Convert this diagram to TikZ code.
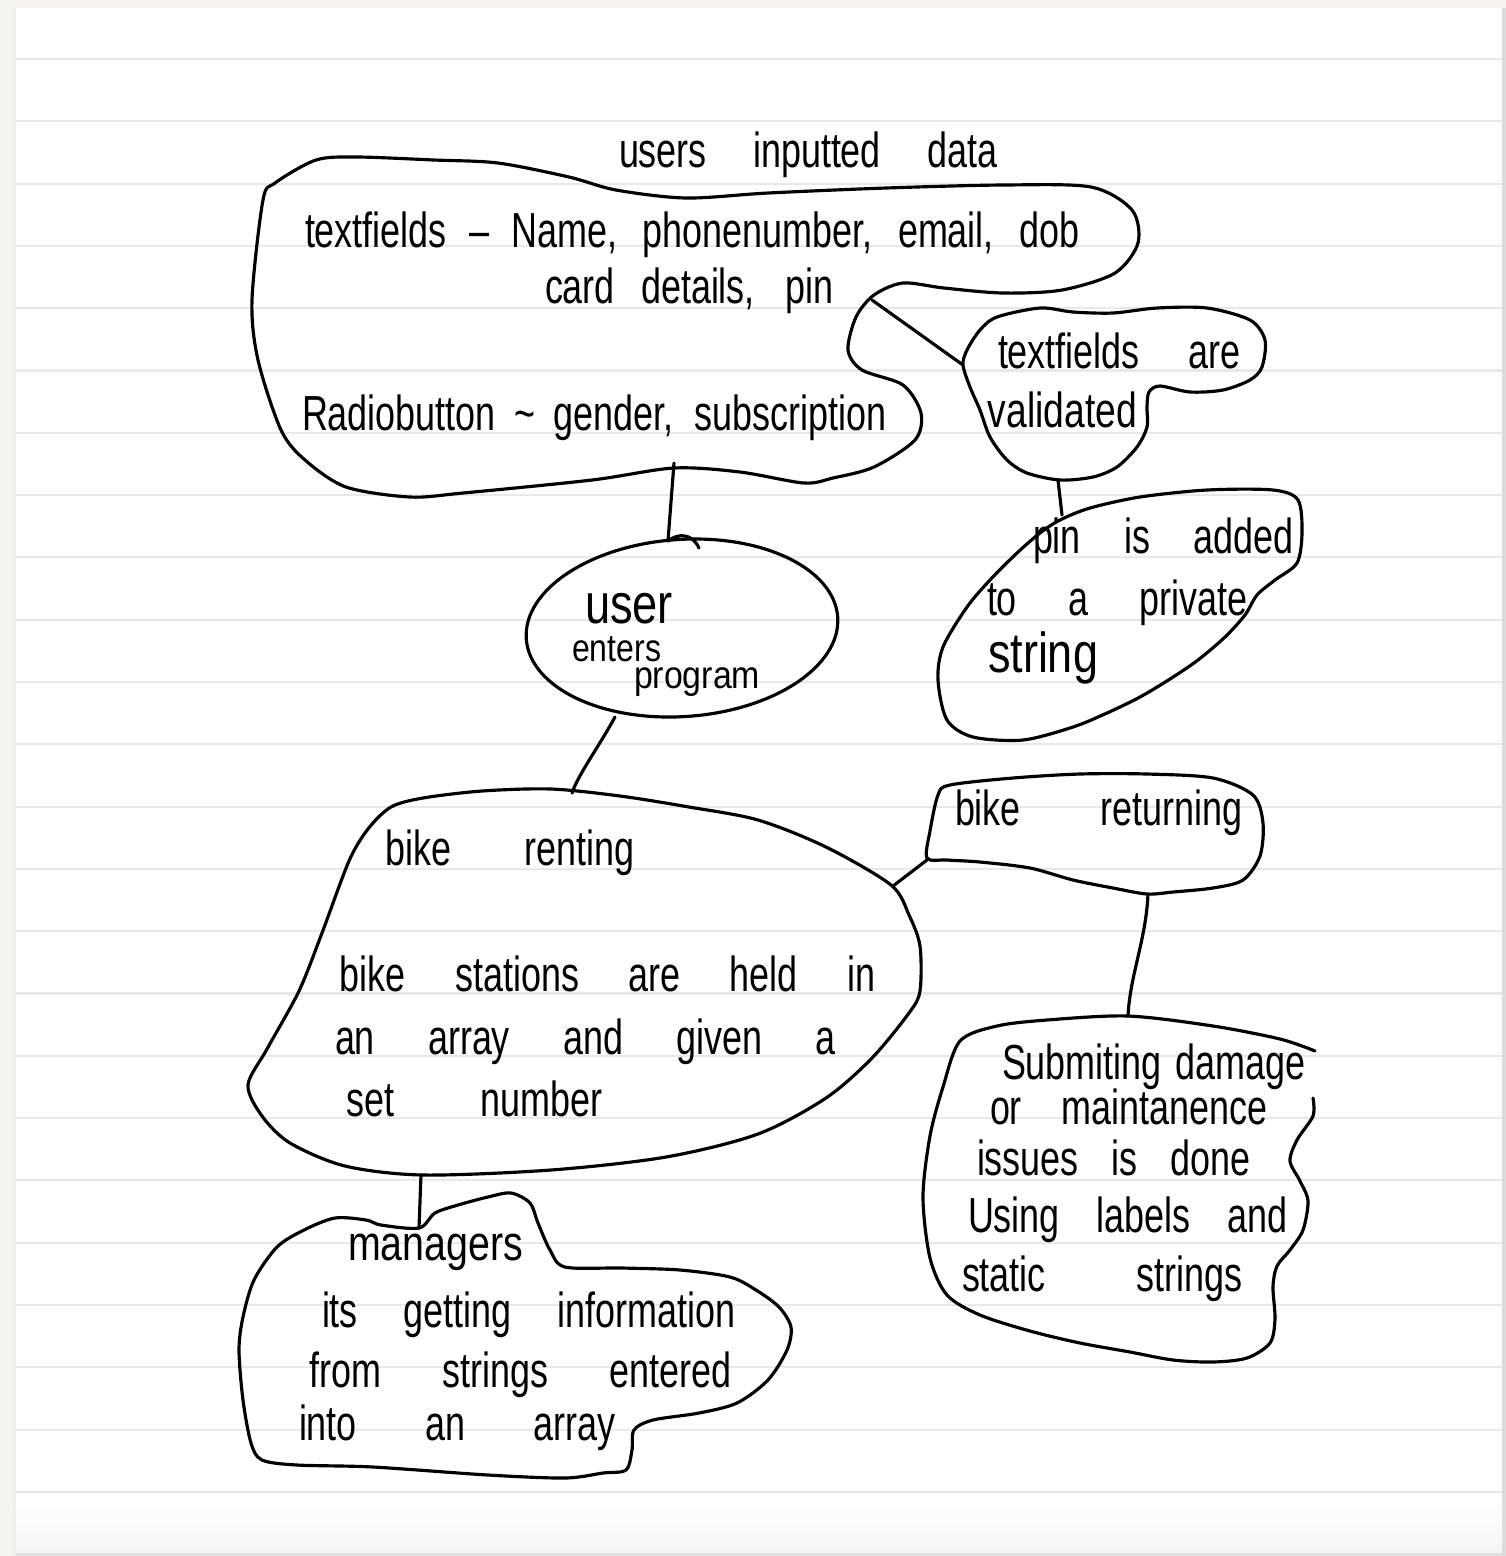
\documentclass[tikz,border=0pt]{standalone}
\usepackage{fontspec}
\setmainfont{Liberation Sans}
\usepackage{graphicx}
\usetikzlibrary{shapes.geometric}
\definecolor{pagebg}{RGB}{246,243,238}
\definecolor{rulegray}{RGB}{232,232,232}
\newcommand\hl[2]{\scalebox{0.73}[1]{\makebox[\dimexpr 1cm*#1/73\relax][s]{#2}}}
\newcommand\hs[2]{\resizebox{\dimexpr 1cm*#1/100\relax}{\height}{#2}}
\begin{document}
\begin{tikzpicture}[x=0.01cm,y=-0.01cm,
  blob/.style={draw=black,line width=0.9pt,line join=round,line cap=round},
  conn/.style={draw=black,line width=0.9pt,line cap=round,line join=round},
  txt/.style={anchor=base west,inner sep=0pt,outer sep=0pt,font=\fontsize{14}{16}\selectfont},
  smalltxt/.style={txt,font=\fontsize{11}{13}\selectfont},
  bigtxt/.style={txt,font=\fontsize{16}{18}\selectfont},
  rule/.style={draw=rulegray,line width=0.6pt}]
\useasboundingbox (0,0) rectangle (1506,1556);
% paper
\fill[pagebg] (0,0) rectangle (1506,1556);
\fill[white] (16,8) rectangle (1502,1553);
\fill[black!7] (13,8) rectangle (16,1556);
\fill[black!14] (1502,8) rectangle (1506,1556);
\shade[top color=white,bottom color=black!4] (16,1500) rectangle (1502,1553);
\fill[black!12] (16,1553) rectangle (1502,1556);
\foreach \k in {0,...,23} \draw[rule] (16,{59+62.3*\k}) -- (1502,{59+62.3*\k});

% title
\node[txt] (title) at (619,167) {\hl{378}{users inputted data}};

% A: users inputted data
\draw[blob] plot[smooth cycle,tension=0.5] coordinates {
 (275,183) (316,160) (357,157) (434,160) (498,163) (569,177) (616,190) (686,198)
 (768,193) (886,188) (1003,185) (1091,187) (1132,210) (1138,243) (1115,273)
 (1062,290) (1003,293) (944,288) (903,283) (874,295) (856,317) (848,350)
 (862,370) (903,385) (921,413) (915,440) (874,467) (833,478) (804,483)
 (740,472) (674,468) (592,480) (463,493) (410,497) (346,487) (305,460)
 (281,430) (258,360) (252,300) (263,200)};
\node[txt] (a1) at (305,247) {\hl{774}{textfields {--} Name, phonenumber, email, dob}};
\node[txt] (a2) at (545,303) {\hl{288}{card details, pin}};
\node[txt] (a3) at (302,430) {\hl{584}{Radiobutton \textasciitilde{} gender, subscription}};

% B: textfields are validated
\draw[blob] plot[smooth cycle,tension=0.5] coordinates {
 (963,365) (967,350) (980,330) (997,317) (1040,308) (1073,312) (1113,313)
 (1157,308) (1207,308) (1250,320) (1265,340) (1262,367) (1250,380) (1223,390)
 (1190,392) (1160,386) (1149,392) (1147,407) (1147,427) (1137,447) (1117,467)
 (1093,477) (1060,480) (1027,473) (1007,460) (990,437) (980,410) (970,387)};
\node[txt] (b1) at (998,368) {\hl{242}{textfields are}};
\node[txt] (b2) at (988,427) {\hs{149}{validated}};

% C: pin is added to a private string
\draw[blob] plot[smooth cycle,tension=0.5] coordinates {
 (1273,490) (1298,500) (1302,533) (1297,563) (1275,580) (1257,595) (1245,615)
 (1225,637) (1198,660) (1170,679) (1140,697) (1107,713) (1073,727) (1023,740)
 (973,737) (947,720) (938,680) (943,647) (967,607) (990,580) (1017,553)
 (1040,533) (1060,520) (1090,508) (1140,497) (1207,490)};
\node[txt] (c1) at (1033,553) {\hl{260}{pin is added}};
\node[txt] (c2) at (987,615) {\hl{260}{to a private}};
\node[bigtxt] (c3) at (988,672) {\hs{110}{string}};

% D: user enters program
\node[draw,ellipse,line width=0.9pt,minimum width=3.12cm,minimum height=1.77cm,
  inner sep=0pt,rotate=4] (D) at (682,628) {};
\node[bigtxt] (d1) at (585,623) {\hs{88}{user}};
\node[smalltxt] (d2) at (572,661) {\hs{89}{enters}};
\node[smalltxt] (d3) at (634,688) {\hs{126}{program}};

% E: bike renting
\draw[blob] plot[smooth cycle,tension=0.5] coordinates {
 (368,829) (391,807) (423,798) (482,791) (551,789) (620,796) (689,807)
 (758,820) (826,847) (891,885) (909,915) (920,946) (920,991) (909,1013)
 (872,1058) (826,1098) (758,1134) (666,1157) (551,1170) (423,1175)
 (345,1166) (290,1143) (262,1116) (248,1085) (267,1049) (299,991)
 (322,933) (349,861)};
\node[txt] (e1) at (386,865) {\hl{248}{bike renting}};
\node[txt] (e2) at (340,991) {\hl{535}{bike stations are held in}};
\node[txt] (e3) at (335,1054) {\hl{500}{an array and given a}};
\node[txt] (e4) at (347,1116) {\hl{255}{set number}};

% F: bike returning
\draw[blob] plot[smooth cycle,tension=0.5] coordinates {
 (927,858) (930,831) (938,795) (950,785) (1013,778) (1080,774) (1147,774)
 (1213,778) (1253,795) (1263,823) (1260,856) (1243,880) (1213,888)
 (1173,892) (1147,894) (1113,888) (1073,880) (1030,868) (980,862) (947,860)};
\node[txt] (f1) at (955,825) {\hl{287}{bike returning}};

% G: submitting damage
\draw[blob] plot[smooth,tension=0.5] coordinates {
 (1313,1098) (1313,1116) (1297,1140) (1290,1161) (1300,1181) (1308,1201)
 (1303,1230) (1290,1250) (1277,1266) (1273,1287) (1275,1319) (1270,1343)
 (1247,1358) (1213,1362) (1173,1360) (1130,1352) (1080,1343) (1030,1331)
 (980,1315) (947,1295) (930,1258) (923,1197) (930,1136) (943,1087)
 (960,1041) (997,1026) (1047,1020) (1128,1016) (1213,1026) (1280,1039) (1315,1051)};
\node[txt] (g1) at (1002,1079) {\hl{303}{Submiting damage}};
\node[txt] (g2) at (990,1124) {\hl{277}{or maintanence}};
\node[txt] (g3) at (977,1175) {\hl{273}{issues is done}};
\node[txt] (g4) at (968,1232) {\hl{319}{Using labels and}};
\node[txt] (g5) at (962,1291) {\hl{280}{static strings}};

% H: managers
\draw[blob] plot[smooth cycle,tension=0.5] coordinates {
 (419,1228) (435,1213) (458,1205) (488,1197) (511,1193) (530,1203) (538,1223)
 (550,1250) (565,1267) (622,1268) (680,1270) (730,1277) (756,1290) (779,1307)
 (791,1327) (787,1350) (768,1380) (737,1403) (699,1413) (653,1420) (634,1430)
 (632,1450) (626,1470) (603,1473) (565,1478) (488,1475) (373,1467) (297,1465)
 (262,1460) (251,1443) (243,1400) (239,1350) (243,1317) (254,1280) (277,1247)
 (304,1230) (335,1218) (366,1220) (381,1225)};
\node[txt] (h1) at (348,1260) {\hs{175}{managers}};
\node[txt] (h2) at (322,1327) {\hl{413}{its getting information}};
\node[txt] (h3) at (310,1387) {\hl{421}{from strings entered}};
\node[txt] (h4) at (299,1440) {\hl{316}{into an array}};

% connectors
\coordinate (ab) at (872,300);
\coordinate (ba) at (963,365);
\coordinate (ad) at (674,463);
\coordinate (da) at (668,541);
\coordinate (hk) at (699,548);
\coordinate (bc) at (1058,480);
\coordinate (cb) at (1062,515);
\coordinate (de) at (615,717);
\coordinate (ed) at (572,793);
\coordinate (ef) at (893,886);
\coordinate (fe) at (927,860);
\coordinate (fg) at (1148,894);
\coordinate (gf) at (1128,1016);
\coordinate (eh) at (421,1175);
\coordinate (he) at (419,1228);
\draw[conn] (ab) -- (ba);
\draw[conn] (ad) -- (da) .. controls (678,533) and (692,533) .. (hk);
\draw[conn] (bc) -- (cb);
\draw[conn] (de) .. controls (598,748) and (578,775) .. (ed);
\draw[conn] (ef) -- (fe);
\draw[conn] (fg) .. controls (1146,940) and (1130,975) .. (gf);
\draw[conn] (eh) -- (he);
\end{tikzpicture}
\end{document}
